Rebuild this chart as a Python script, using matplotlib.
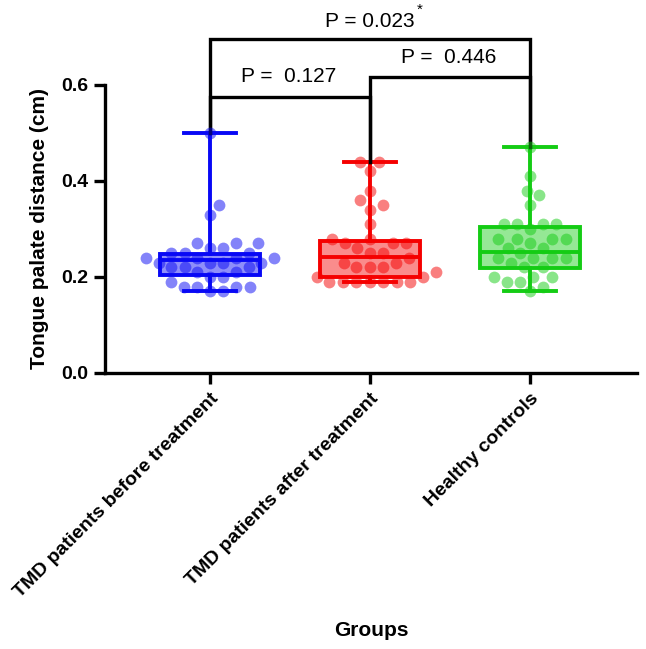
import numpy as np
from matplotlib import pyplot as plt

plt.rcParams['font.family'] = ['Liberation Sans', 'DejaVu Sans']

# group names and raw points
groups = ["TMD patients before treatment", "TMD patients after treatment", "Healthy controls"]
colors = ["#0808F5", "#F50000", "#14CC14"]

before = [0.50, 0.35, 0.33, 0.27, 0.27, 0.27, 0.26, 0.26, 0.25, 0.25, 0.25,
          0.24, 0.24, 0.24, 0.24, 0.23, 0.23, 0.23, 0.23, 0.22, 0.22, 0.22,
          0.21, 0.21, 0.20, 0.20, 0.19, 0.18, 0.18, 0.18, 0.18, 0.17, 0.17]
after = [0.44, 0.44, 0.42, 0.38, 0.36, 0.35, 0.34, 0.31, 0.28, 0.28, 0.27,
         0.27, 0.27, 0.26, 0.25, 0.25, 0.24, 0.23, 0.23, 0.22, 0.22, 0.22,
         0.21, 0.20, 0.20, 0.19, 0.19, 0.19, 0.19, 0.19, 0.19, 0.19]
controls = [0.47, 0.41, 0.38, 0.37, 0.35, 0.31, 0.31, 0.31, 0.31, 0.30, 0.28,
            0.28, 0.28, 0.28, 0.27, 0.26, 0.26, 0.25, 0.24, 0.24, 0.24, 0.24,
            0.23, 0.22, 0.22, 0.20, 0.20, 0.20, 0.19, 0.19, 0.18, 0.17]

# box summary (min to max whiskers, as drawn)
q1 = [0.204, 0.200, 0.219]
med = [0.235, 0.242, 0.252]
q3 = [0.248, 0.275, 0.305]
whis_lo = [0.17, 0.19, 0.17]
whis_hi = [0.50, 0.44, 0.47]

# significance comparisons (group a, group b, p text)
pairs = [(0, 1, "P =  0.127"), (1, 2, "P =  0.446"), (0, 2, "P = 0.023")]


def swarm_offsets(y_px, d):
    """Simple beeswarm: put each point as near the centre as it fits."""
    placed = []
    out = []
    for y in y_px:
        cands = [0.0]
        for px, py in placed:
            dy = y - py
            if abs(dy) < d:
                dx = np.sqrt(d ** 2 - dy ** 2)
                cands += [px + dx, px - dx]
        cands.sort(key=abs)
        for c in cands:
            if all((c - px) ** 2 + (y - py) ** 2 >= d ** 2 - 1e-6 for px, py in placed):
                break
        placed.append((c, y))
        out.append(c)
    return np.array(out)


fig = plt.figure(figsize=(6.46, 6.49), dpi=100)
ax = fig.add_axes([0.1625, 0.4253, 0.8235, 0.4438])
ax.set_xlim(-0.656, 2.669)
ax.set_ylim(0, 0.6)

stats = []
for i in range(3):
    stats.append(dict(med=med[i], q1=q1[i], q3=q3[i],
                      whislo=whis_lo[i], whishi=whis_hi[i], fliers=[]))

bp = ax.bxp(stats, positions=[0, 1, 2], widths=0.63, capwidths=0.33,
            patch_artist=True, showfliers=False)
for i, c in enumerate(colors):
    bp['boxes'][i].set_facecolor((*plt.matplotlib.colors.to_rgb(c), 0.45))
    bp['boxes'][i].set_edgecolor(c)
    bp['boxes'][i].set_linewidth(2.8)
    bp['medians'][i].set_color(c)
    bp['medians'][i].set_linewidth(2.8)
    for ln in bp['whiskers'][2 * i:2 * i + 2] + bp['caps'][2 * i:2 * i + 2]:
        ln.set_color(c)
        ln.set_linewidth(2.8)

# points laid out as a swarm in pixel space
fig.canvas.draw()
px_per_x = ax.transData.transform((1, 0))[0] - ax.transData.transform((0, 0))[0]
for i, vals in enumerate([before, after, controls]):
    vals = np.sort(np.array(vals))
    y_px = ax.transData.transform(np.column_stack([np.zeros_like(vals), vals]))[:, 1]
    offs = swarm_offsets(y_px, 13.5) / px_per_x
    ax.scatter(i + offs, vals, s=72, color=colors[i], alpha=0.5,
               linewidths=0, zorder=3)

# significance brackets
levels = {(0, 1): 0.575, (1, 2): 0.617, (0, 2): 0.696}
for a, b, txt in pairs:
    h = levels[(a, b)]
    ax.plot([a, a, b, b], [whis_hi[a], h, h, whis_hi[b]], color="black",
            lw=2.4, clip_on=False, solid_joinstyle="miter")
tx = {(0, 1): (0.49, 0.617), (1, 2): (1.49, 0.658), (0, 2): (1.0, 0.732)}
for a, b, txt in pairs:
    x, y = tx[(a, b)]
    ax.text(x, y, txt, ha="center", va="center", fontsize=15, clip_on=False)
ax.text(1.31, 0.757, "*", ha="center", va="center", fontsize=11, clip_on=False)

# axes styling
for side in ["top", "right"]:
    ax.spines[side].set_visible(False)
for side in ["left", "bottom"]:
    ax.spines[side].set_linewidth(2.4)
ax.set_yticks([0, 0.2, 0.4, 0.6])
ax.set_yticklabels(["0.0", "0.2", "0.4", "0.6"], fontsize=14, fontweight="bold")
ax.set_xticks([0, 1, 2])
ax.set_xticklabels(groups, fontsize=14, fontweight="bold", rotation=45,
                   ha="right", rotation_mode="anchor")
ax.tick_params(axis="both", length=8, width=2.4, pad=4)

ax.set_ylabel("Tongue palate distance (cm)", fontsize=15, fontweight="bold")
ax.yaxis.set_label_coords(-0.105, 0.5)
ax.set_xlabel("Groups", fontsize=15, fontweight="bold")
ax.xaxis.set_label_coords(0.5, -0.86)

fig.savefig("out.png", dpi=100)
